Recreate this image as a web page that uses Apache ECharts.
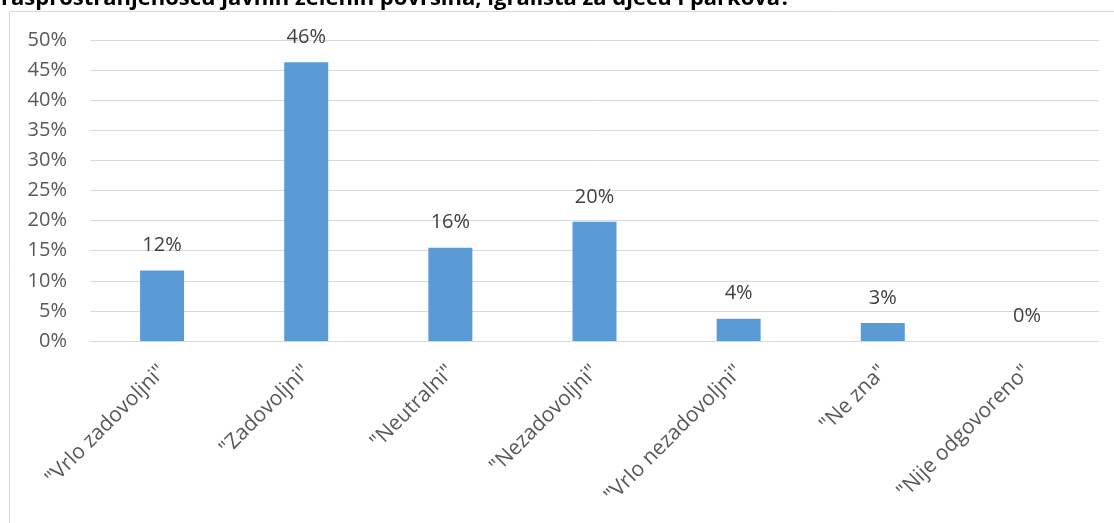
<!DOCTYPE html>
<html><head><meta charset="utf-8">
<script src="https://cdn.jsdelivr.net/npm/echarts@6/dist/echarts.min.js"></script>
<style>html,body{margin:0;padding:0;background:#fff}#c{width:1114px;height:523px}</style>
</head><body><div id="c"></div>
<script>
const titleText = 'rasprostranjenošću javnih zelenih površina, igrališta za djecu i parkova?';
const categories = ['"Vrlo zadovoljni"', '"Zadovoljni"', '"Neutralni"', '"Nezadovoljni"', '"Vrlo nezadovoljni"', '"Ne zna"', '"Nije odgovoreno"'];
const values = [11.7, 46.3, 15.5, 19.8, 3.7, 3.0, 0];
const yTicks = {min: 0, max: 50, interval: 5};

const chart = echarts.init(document.getElementById('c'), null, {renderer: 'canvas'});
const font = '"Open Sans", sans-serif';
chart.setOption({
  animation: false,
  backgroundColor: '#fff',
  graphic: [
    {type: 'rect', shape: {x: 9.5, y: 11.5, width: 1300, height: 700}, style: {fill: 'none', stroke: '#d9d9d9', lineWidth: 1}, z: -1},
    {type: 'text', x: 1, y: 10, style: {text: titleText, font: 'bold 22px "Open Sans", sans-serif', fill: '#000', textVerticalAlign: 'bottom'}}
  ],
  grid: {left: 90, right: 15, top: 40, bottom: 182},
  xAxis: {
    type: 'category', data: categories,
    axisLine: {lineStyle: {color: '#d9d9d9'}},
    axisTick: {show: false},
    axisLabel: {interval: 0, rotate: 45, color: '#595959', fontSize: 21, fontFamily: font, margin: 13,
      verticalAlign: 'top', padding: [0, 10, 0, 0]}
  },
  yAxis: {
    type: 'value', min: yTicks.min, max: yTicks.max, interval: yTicks.interval,
    axisLine: {show: false}, axisTick: {show: false},
    splitLine: {lineStyle: {color: '#d9d9d9'}},
    axisLabel: {formatter: '{value}%', color: '#595959', fontSize: 20, fontFamily: font, margin: 23}
  },
  series: [{
    type: 'bar', data: values, barWidth: 44,
    itemStyle: {color: '#5b9bd5'},
    label: {show: true, position: 'top', distance: 15, color: '#404040', fontSize: 20, fontFamily: font,
      formatter: p => Math.round(p.value) + '%'}
  }]
});
</script></body></html>
